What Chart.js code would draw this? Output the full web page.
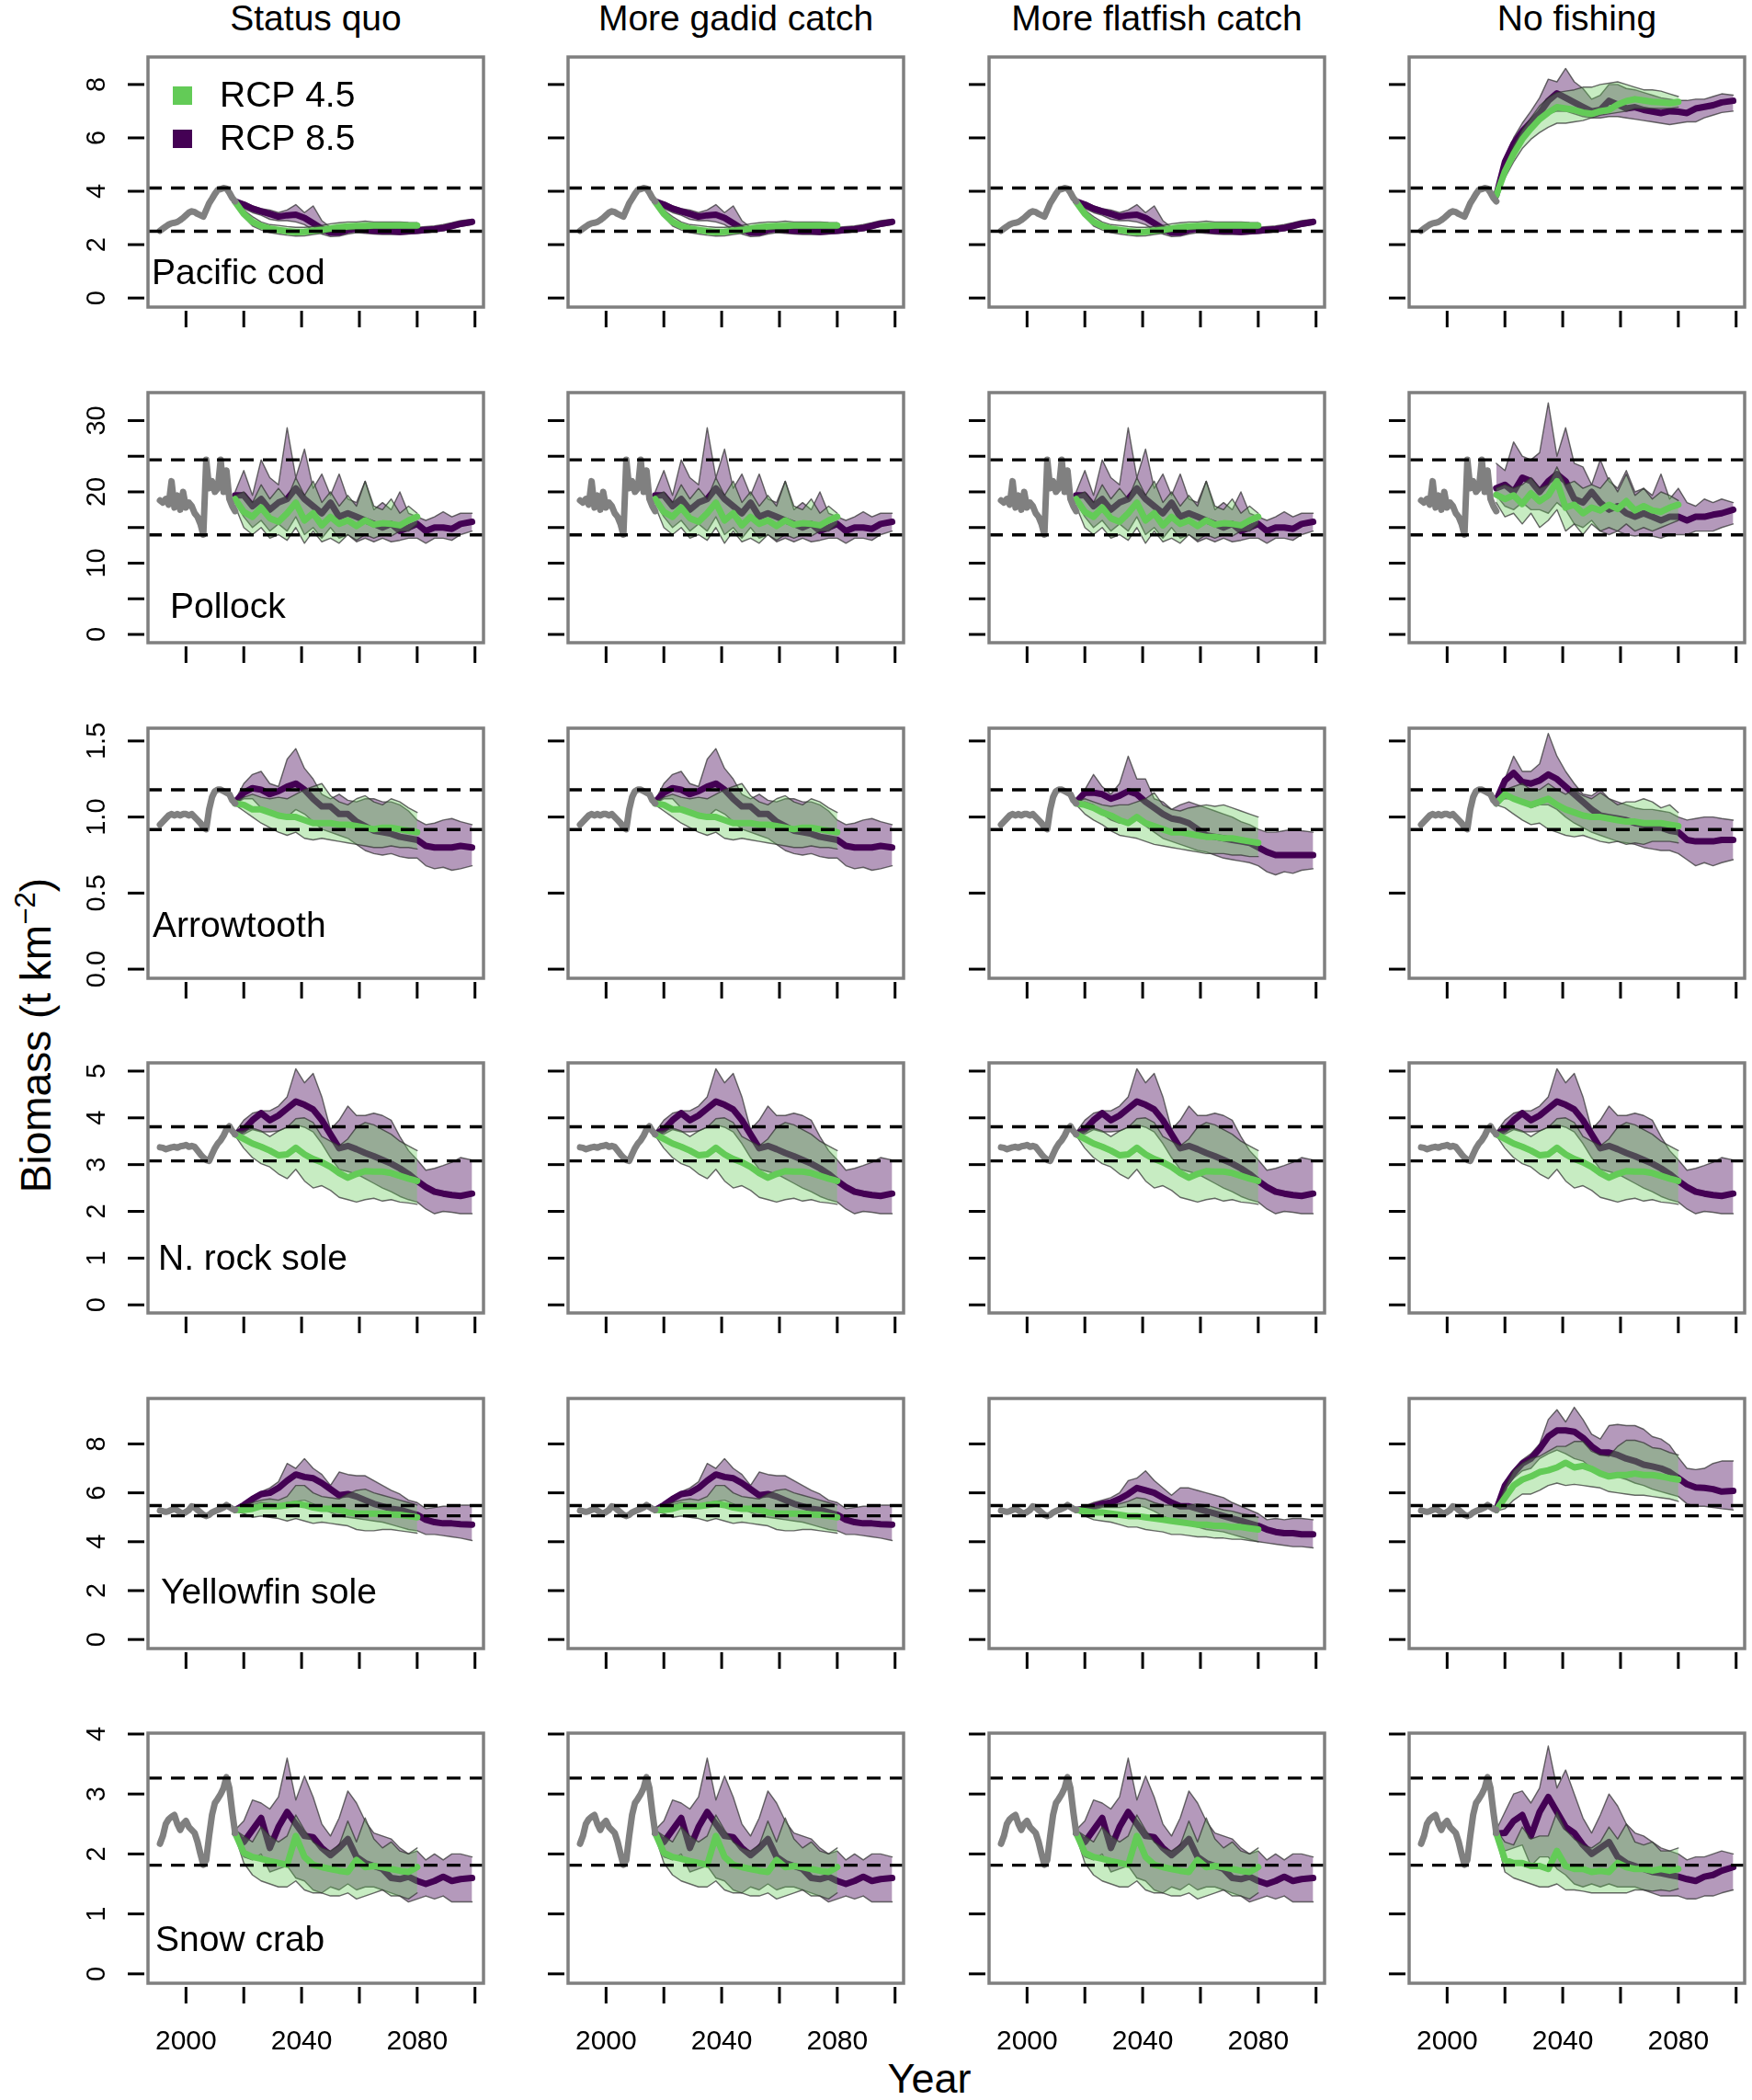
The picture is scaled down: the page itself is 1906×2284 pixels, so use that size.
<!DOCTYPE html>
<html>
<head>
<meta charset="utf-8">
<title>Biomass projections</title>
<script src="https://cdn.jsdelivr.net/npm/chart.js@4.4.1/dist/chart.umd.min.js"></script>
<style>
  html, body { margin: 0; padding: 0; background: #fff; }
  #fig { position: relative; width: 1906px; height: 2284px; overflow: hidden;
         font-family: "Liberation Sans", Arial, Helvetica, sans-serif; color: #000; }
  #fig canvas { position: absolute; }
  .title { position: absolute; top: 0; font-size: 39px; line-height: 39px; white-space: nowrap; transform: translateX(-50%); }
  .xlab { position: absolute; top: 2238px; left: 1011px; font-size: 45px; line-height: 45px; transform: translateX(-50%); }
  .ylab { position: absolute; left: -211px; top: 1103px; width: 500px; height: 46px; font-size: 46px; line-height: 46px;
          text-align: center; white-space: nowrap; transform: rotate(-90deg); }
  .ylab sup { font-size: 0.68em; line-height: 0; vertical-align: 0.55em; }
</style>
</head>
<body>
<div id="fig">
  <div class="xlab">Year</div>
  <div class="ylab">Biomass (t km<sup>&minus;2</sup>)</div>
</div>
<script>
// ---- years ----
const H_YEARS = [1991, 1992, 1993, 1994, 1995, 1996, 1997, 1998, 1999, 2000, 2001, 2002, 2003, 2004,
  2005, 2006, 2007, 2008, 2009, 2010, 2011, 2012, 2013, 2014, 2015, 2016, 2017];
const G_YEARS = [2017, 2020, 2023, 2026, 2029, 2032, 2035, 2038, 2041, 2044, 2047, 2050, 2053, 2056,
  2059, 2062, 2065, 2068, 2071, 2074, 2077, 2080];
const P_YEARS = [2017, 2020, 2023, 2026, 2029, 2032, 2035, 2038, 2041, 2044, 2047, 2050, 2053, 2056,
  2059, 2062, 2065, 2068, 2071, 2074, 2077, 2080, 2083, 2086, 2089, 2092, 2095, 2099];

const COL_TITLES = ['Status quo', 'More gadid catch', 'More flatfish catch', 'No fishing'];
const SPECIES = ['Pacific cod', 'Pollock', 'Arrowtooth', 'N. rock sole', 'Yellowfin sole', 'Snow crab'];
const X_TICKS = [2000, 2020, 2040, 2060, 2080, 2100];
const X_LABELS = [2000, 2040, 2080];
const LEGEND = ['RCP 4.5', 'RCP 8.5'];

// dashed reference lines per species
const REF_LINES = [[4.12, 2.50], [24.5, 13.96], [1.179, 0.918], [3.81, 3.08], [5.48, 5.06], [3.265, 1.813]];

// ---- historical series (same in every scenario column) ----
const codHist = [2.52, 2.60, 2.68, 2.75, 2.80, 2.82, 2.85, 2.92, 3.00, 3.10, 3.20, 3.25, 3.22, 3.15, 3.10, 3.05, 3.30, 3.55, 3.72, 3.90, 4.05, 4.08, 4.12, 4.10, 3.95, 3.75, 3.62];
const polHist = [18.8, 18.5, 19.0, 18.2, 21.5, 17.8, 19.5, 17.5, 20.0, 17.8, 18.5, 18.0, 17.0, 16.5, 15.5, 14.0, 24.5, 20.5, 21.5, 20.0, 20.5, 24.5, 20.0, 23.0, 19.0, 18.0, 17.3];
const arrHist = [0.95, 0.97, 0.99, 1.01, 1.02, 1.01, 1.02, 1.01, 1.02, 1.02, 1.01, 1.02, 1.00, 0.98, 0.96, 0.93, 0.92, 1.05, 1.13, 1.17, 1.18, 1.18, 1.17, 1.16, 1.15, 1.11, 1.09];
const rockHist = [3.37, 3.36, 3.33, 3.35, 3.37, 3.38, 3.36, 3.39, 3.40, 3.42, 3.38, 3.40, 3.38, 3.30, 3.22, 3.15, 3.10, 3.08, 3.22, 3.35, 3.45, 3.52, 3.62, 3.75, 3.82, 3.72, 3.65];
const yfHist = [5.28, 5.25, 5.22, 5.25, 5.30, 5.35, 5.28, 5.20, 5.15, 5.22, 5.30, 5.45, 5.40, 5.30, 5.20, 5.10, 5.05, 5.10, 5.20, 5.25, 5.30, 5.35, 5.40, 5.50, 5.42, 5.35, 5.30];
const snowHist = [2.17, 2.30, 2.50, 2.58, 2.62, 2.65, 2.50, 2.40, 2.50, 2.55, 2.45, 2.40, 2.35, 2.20, 2.00, 1.82, 1.90, 2.30, 2.65, 2.85, 2.92, 3.00, 3.10, 3.28, 3.10, 2.70, 2.35];

// ---- projections: g = RCP 4.5 (G_YEARS), p = RCP 8.5 (P_YEARS) ----
const codA = {
  gLo:  [3.55, 3.05, 2.70, 2.55, 2.45, 2.40, 2.35, 2.32, 2.33, 2.38, 2.42, 2.48, 2.52, 2.55, 2.57, 2.58, 2.60, 2.60, 2.60, 2.62, 2.60, 2.60],
  gMid: [3.60, 3.15, 2.85, 2.70, 2.60, 2.55, 2.50, 2.47, 2.48, 2.52, 2.55, 2.60, 2.65, 2.68, 2.70, 2.70, 2.72, 2.72, 2.72, 2.73, 2.72, 2.72],
  gHi:  [3.65, 3.30, 3.05, 2.85, 2.75, 2.72, 2.68, 2.65, 2.65, 2.68, 2.72, 2.78, 2.82, 2.85, 2.85, 2.88, 2.85, 2.85, 2.85, 2.85, 2.83, 2.82],
  pLo:  [3.58, 3.35, 3.20, 3.10, 2.95, 2.90, 2.90, 2.85, 2.75, 2.55, 2.40, 2.30, 2.32, 2.40, 2.45, 2.42, 2.40, 2.38, 2.38, 2.38, 2.40, 2.42, 2.45, 2.48, 2.52, 2.60, 2.68, 2.75],
  pMid: [3.62, 3.50, 3.35, 3.25, 3.15, 3.05, 3.10, 3.12, 3.00, 2.80, 2.60, 2.45, 2.45, 2.55, 2.60, 2.55, 2.52, 2.50, 2.50, 2.48, 2.50, 2.52, 2.55, 2.58, 2.62, 2.70, 2.78, 2.85],
  pHi:  [3.65, 3.60, 3.45, 3.35, 3.30, 3.20, 3.30, 3.50, 3.20, 3.45, 2.90, 2.65, 2.60, 2.75, 2.78, 2.70, 2.68, 2.65, 2.65, 2.62, 2.62, 2.65, 2.68, 2.70, 2.75, 2.82, 2.90, 2.95]
};
const codB = {
  gLo:  [3.80, 4.50, 5.10, 5.60, 5.95, 6.20, 6.40, 6.55, 6.55, 6.60, 6.65, 6.75, 6.85, 6.90, 6.95, 7.00, 7.10, 7.10, 7.10, 7.10, 7.10, 7.15],
  gMid: [3.84, 4.75, 5.40, 5.95, 6.35, 6.70, 6.95, 7.15, 7.10, 7.05, 6.95, 6.90, 7.00, 7.05, 7.25, 7.38, 7.45, 7.40, 7.35, 7.33, 7.30, 7.35],
  gHi:  [3.90, 4.95, 5.70, 6.30, 6.75, 7.20, 7.50, 7.70, 7.75, 7.80, 7.90, 7.90, 8.00, 8.05, 8.10, 8.00, 7.90, 7.80, 7.80, 7.75, 7.65, 7.55],
  pLo:  [3.80, 5.00, 5.60, 6.00, 6.30, 6.60, 6.90, 7.00, 7.00, 6.90, 6.80, 6.75, 6.75, 6.80, 6.80, 6.75, 6.70, 6.65, 6.60, 6.55, 6.50, 6.55, 6.60, 6.60, 6.75, 6.85, 6.95, 7.00],
  pMid: [3.84, 5.10, 5.78, 6.24, 6.59, 6.93, 7.39, 7.67, 7.50, 7.33, 7.16, 6.99, 7.05, 7.39, 7.25, 7.10, 7.15, 7.05, 6.99, 6.93, 7.00, 6.98, 6.93, 7.10, 7.16, 7.22, 7.33, 7.39],
  pHi:  [3.90, 5.25, 6.00, 6.55, 7.00, 7.50, 8.20, 8.10, 8.60, 8.10, 7.85, 7.45, 7.60, 8.00, 8.00, 7.85, 7.80, 7.70, 7.60, 7.50, 7.45, 7.40, 7.40, 7.45, 7.45, 7.55, 7.65, 7.60]
};
const polA = {
  gLo:  [18.0, 15.0, 14.0, 15.0, 13.5, 14.0, 13.2, 15.0, 12.8, 14.5, 13.0, 13.5, 12.8, 14.0, 13.2, 14.0, 13.5, 14.0, 13.8, 14.5, 14.5, 15.5],
  gMid: [19.0, 17.2, 16.5, 17.8, 16.3, 15.8, 17.0, 18.5, 16.0, 17.0, 15.3, 16.5, 15.5, 16.0, 15.2, 16.0, 15.4, 15.6, 15.5, 15.3, 16.0, 16.5],
  gHi:  [19.5, 20.0, 18.5, 21.0, 19.0, 20.5, 19.0, 22.0, 19.5, 21.5, 18.5, 20.0, 18.0, 19.5, 18.0, 21.5, 18.0, 17.5, 19.0, 17.0, 18.0, 17.0],
  pLo:  [18.5, 16.5, 15.0, 16.0, 14.5, 15.5, 14.5, 16.5, 14.0, 15.0, 13.5, 15.0, 13.5, 14.0, 13.0, 13.5, 13.0, 13.5, 13.0, 13.2, 13.5, 13.5, 12.8, 13.5, 13.5, 13.2, 14.0, 14.5],
  pMid: [19.5, 19.5, 18.0, 19.0, 17.5, 18.5, 19.0, 20.5, 19.0, 18.0, 17.0, 18.5, 16.5, 17.0, 16.5, 16.0, 15.5, 15.0, 15.5, 14.5, 15.0, 15.5, 14.5, 15.0, 15.0, 14.8, 15.5, 15.8],
  pHi:  [20.0, 23.0, 19.5, 24.5, 22.0, 21.0, 29.0, 22.0, 26.0, 20.5, 22.5, 19.5, 22.5, 19.0, 18.5, 21.5, 17.5, 18.5, 17.5, 20.0, 17.0, 16.5, 16.0, 16.5, 17.2, 16.5, 17.0, 17.0]
};
const polB = {
  gLo:  [18.5, 16.5, 17.0, 15.5, 17.0, 15.0, 16.0, 17.5, 14.5, 15.5, 14.0, 15.5, 14.5, 15.0, 14.5, 15.5, 14.5, 15.0, 14.5, 15.0, 15.5, 16.0],
  gMid: [19.6, 19.0, 19.5, 18.3, 19.8, 18.7, 19.5, 21.5, 17.8, 18.2, 17.0, 17.8, 17.4, 18.2, 17.6, 18.7, 17.4, 18.0, 17.4, 17.2, 17.8, 18.2],
  gHi:  [20.5, 21.0, 20.5, 21.0, 22.0, 20.5, 21.0, 23.5, 21.0, 21.5, 20.5, 21.0, 20.5, 22.0, 20.0, 22.5, 19.5, 20.5, 19.0, 20.0, 19.5, 18.8],
  pLo:  [19.5, 18.0, 17.5, 18.5, 17.5, 17.5, 17.0, 18.5, 17.5, 15.5, 15.0, 16.0, 14.5, 14.0, 14.5, 14.0, 13.8, 14.0, 13.8, 13.5, 14.0, 14.0, 14.0, 14.5, 14.5, 14.5, 15.0, 15.5],
  pMid: [20.5, 21.0, 20.0, 22.0, 21.5, 20.0, 21.5, 22.5, 21.5, 19.0, 18.5, 20.0, 18.5, 17.5, 18.0, 17.0, 16.5, 17.0, 16.5, 16.0, 16.5, 16.5, 16.0, 16.5, 16.5, 16.8, 17.0, 17.5],
  pHi:  [24.0, 23.0, 27.0, 25.0, 24.5, 25.5, 32.5, 25.0, 29.0, 24.0, 23.5, 21.0, 24.5, 21.5, 20.5, 23.0, 20.0, 20.5, 19.5, 22.5, 19.0, 20.5, 18.5, 18.0, 19.0, 18.5, 19.0, 18.5]
};
const arrA = {
  gLo:  [1.08, 1.04, 1.00, 0.96, 0.93, 0.90, 0.88, 0.90, 0.86, 0.85, 0.86, 0.85, 0.84, 0.83, 0.82, 0.81, 0.80, 0.80, 0.81, 0.80, 0.80, 0.79],
  gMid: [1.09, 1.08, 1.05, 1.05, 1.03, 1.01, 1.00, 1.00, 0.98, 0.96, 0.96, 0.96, 0.95, 0.95, 0.94, 0.93, 0.92, 0.93, 0.93, 0.92, 0.91, 0.90],
  gHi:  [1.10, 1.13, 1.15, 1.13, 1.12, 1.13, 1.12, 1.15, 1.18, 1.20, 1.22, 1.14, 1.10, 1.08, 1.12, 1.14, 1.10, 1.08, 1.12, 1.10, 1.06, 1.03],
  pLo:  [1.09, 1.12, 1.12, 1.06, 1.02, 1.00, 1.00, 1.05, 1.02, 0.97, 0.92, 0.90, 0.88, 0.86, 0.82, 0.78, 0.76, 0.75, 0.76, 0.74, 0.73, 0.73, 0.68, 0.66, 0.67, 0.65, 0.66, 0.68],
  pMid: [1.10, 1.16, 1.19, 1.18, 1.15, 1.17, 1.20, 1.22, 1.18, 1.12, 1.07, 1.07, 1.02, 1.02, 0.97, 0.94, 0.91, 0.90, 0.89, 0.87, 0.86, 0.85, 0.81, 0.80, 0.80, 0.80, 0.81, 0.80],
  pHi:  [1.11, 1.22, 1.28, 1.30, 1.22, 1.20, 1.38, 1.45, 1.32, 1.25, 1.15, 1.12, 1.15, 1.11, 1.10, 1.12, 1.12, 1.10, 1.10, 1.08, 1.04, 0.98, 0.95, 0.96, 0.98, 0.99, 0.97, 0.95]
};
const arrB = {
  gLo:  [1.08, 1.02, 0.98, 0.95, 0.91, 0.88, 0.87, 0.86, 0.84, 0.82, 0.81, 0.80, 0.79, 0.78, 0.77, 0.76, 0.76, 0.76, 0.75, 0.75, 0.74, 0.74],
  gMid: [1.09, 1.08, 1.06, 1.03, 1.01, 0.98, 0.96, 1.00, 0.96, 0.94, 0.92, 0.90, 0.90, 0.89, 0.88, 0.87, 0.87, 0.86, 0.86, 0.85, 0.84, 0.83],
  gHi:  [1.10, 1.12, 1.10, 1.08, 1.07, 1.08, 1.08, 1.10, 1.12, 1.16, 1.08, 1.05, 1.04, 1.06, 1.07, 1.08, 1.07, 1.08, 1.06, 1.04, 1.02, 1.00],
  pLo:  [1.08, 1.10, 1.08, 1.02, 0.98, 0.96, 0.97, 0.98, 0.94, 0.90, 0.86, 0.84, 0.82, 0.80, 0.78, 0.77, 0.75, 0.73, 0.72, 0.71, 0.70, 0.68, 0.64, 0.62, 0.64, 0.63, 0.65, 0.66],
  pMid: [1.10, 1.16, 1.16, 1.15, 1.12, 1.14, 1.17, 1.15, 1.10, 1.06, 1.02, 0.99, 0.98, 0.96, 0.92, 0.88, 0.87, 0.86, 0.85, 0.84, 0.83, 0.80, 0.77, 0.75, 0.75, 0.75, 0.75, 0.75],
  pHi:  [1.11, 1.18, 1.28, 1.20, 1.15, 1.22, 1.40, 1.25, 1.25, 1.12, 1.10, 1.05, 1.08, 1.10, 1.08, 1.06, 1.04, 1.02, 1.00, 0.97, 0.95, 0.92, 0.90, 0.90, 0.91, 0.92, 0.91, 0.90]
};
const arrC = {
  gLo:  [1.08, 1.06, 1.02, 0.98, 0.95, 0.96, 0.92, 0.90, 0.88, 0.87, 0.88, 0.86, 0.84, 0.83, 0.84, 0.82, 0.83, 0.82, 0.84, 0.84, 0.84, 0.83],
  gMid: [1.09, 1.15, 1.12, 1.10, 1.08, 1.10, 1.12, 1.08, 1.05, 1.03, 1.01, 1.00, 1.00, 0.99, 0.98, 0.97, 0.97, 0.96, 0.96, 0.96, 0.95, 0.94],
  gHi:  [1.10, 1.18, 1.20, 1.22, 1.18, 1.18, 1.22, 1.18, 1.15, 1.18, 1.14, 1.12, 1.16, 1.12, 1.08, 1.10, 1.10, 1.12, 1.10, 1.06, 1.08, 1.03],
  pLo:  [1.10, 1.12, 1.12, 1.10, 1.06, 1.08, 1.08, 1.05, 1.00, 0.96, 0.93, 0.90, 0.88, 0.86, 0.84, 0.83, 0.82, 0.80, 0.79, 0.78, 0.78, 0.76, 0.72, 0.68, 0.70, 0.68, 0.70, 0.72],
  pMid: [1.11, 1.24, 1.29, 1.23, 1.22, 1.24, 1.28, 1.25, 1.20, 1.15, 1.10, 1.05, 1.01, 1.00, 0.99, 0.98, 0.96, 0.95, 0.93, 0.93, 0.91, 0.90, 0.85, 0.84, 0.84, 0.84, 0.85, 0.85],
  pHi:  [1.13, 1.25, 1.40, 1.30, 1.30, 1.35, 1.55, 1.40, 1.30, 1.22, 1.15, 1.14, 1.18, 1.12, 1.10, 1.08, 1.06, 1.05, 1.05, 1.04, 1.03, 1.00, 0.98, 0.99, 1.00, 1.00, 0.99, 0.98]
};
const rockA = {
  gLo:  [3.62, 3.35, 3.15, 3.02, 2.95, 2.80, 2.70, 2.90, 2.65, 2.50, 2.55, 2.45, 2.30, 2.25, 2.20, 2.25, 2.28, 2.22, 2.25, 2.20, 2.18, 2.15],
  gMid: [3.65, 3.55, 3.45, 3.38, 3.30, 3.20, 3.22, 3.36, 3.22, 3.12, 3.05, 2.95, 2.82, 2.72, 2.80, 2.86, 2.85, 2.85, 2.82, 2.76, 2.70, 2.65],
  gHi:  [3.70, 3.72, 3.78, 3.72, 3.60, 3.72, 3.80, 3.98, 4.00, 3.90, 3.60, 3.50, 3.40, 3.55, 3.80, 3.90, 3.85, 3.75, 3.65, 3.50, 3.40, 3.30],
  pLo:  [3.60, 3.65, 3.75, 3.70, 3.70, 3.72, 3.80, 3.85, 3.80, 3.70, 3.45, 3.15, 2.90, 2.85, 2.80, 2.70, 2.60, 2.50, 2.42, 2.32, 2.25, 2.20, 2.05, 1.95, 2.00, 1.98, 1.95, 1.95],
  pMid: [3.65, 3.75, 3.95, 4.10, 3.95, 4.05, 4.20, 4.35, 4.28, 4.18, 3.95, 3.65, 3.35, 3.40, 3.33, 3.25, 3.18, 3.10, 3.02, 2.92, 2.80, 2.65, 2.52, 2.42, 2.38, 2.35, 2.33, 2.38],
  pHi:  [3.70, 3.95, 4.10, 4.15, 4.15, 4.25, 4.45, 5.05, 4.75, 4.95, 4.45, 3.75, 3.95, 4.25, 4.05, 4.05, 4.10, 4.05, 3.95, 3.60, 3.30, 3.10, 2.88, 2.92, 2.98, 3.05, 3.15, 3.10]
};
const yfA = {
  gLo:  [5.25, 5.15, 5.00, 5.05, 5.00, 4.95, 4.85, 4.95, 4.85, 4.75, 4.80, 4.75, 4.70, 4.65, 4.50, 4.45, 4.45, 4.50, 4.50, 4.45, 4.40, 4.35],
  gMid: [5.30, 5.30, 5.35, 5.45, 5.45, 5.45, 5.50, 5.55, 5.50, 5.40, 5.35, 5.35, 5.30, 5.20, 5.15, 5.15, 5.15, 5.15, 5.12, 5.10, 5.05, 5.00],
  gHi:  [5.35, 5.50, 5.60, 5.70, 5.75, 5.70, 5.85, 6.30, 6.30, 6.00, 5.85, 5.80, 5.75, 5.95, 6.10, 6.15, 6.00, 5.90, 5.80, 5.70, 5.60, 5.50],
  pLo:  [5.25, 5.40, 5.50, 5.60, 5.55, 5.50, 5.60, 5.65, 5.70, 5.55, 5.35, 5.20, 5.05, 5.00, 4.95, 4.90, 4.85, 4.80, 4.70, 4.60, 4.50, 4.45, 4.30, 4.30, 4.25, 4.20, 4.15, 4.05],
  pMid: [5.30, 5.50, 5.75, 5.95, 6.00, 6.20, 6.50, 6.75, 6.65, 6.60, 6.40, 6.15, 5.90, 5.95, 5.85, 5.70, 5.55, 5.45, 5.35, 5.30, 5.20, 5.10, 4.90, 4.80, 4.75, 4.75, 4.72, 4.70],
  pHi:  [5.35, 5.55, 5.85, 6.05, 6.20, 6.45, 7.20, 7.00, 7.40, 7.00, 6.75, 6.30, 6.85, 6.75, 6.70, 6.70, 6.50, 6.30, 6.10, 5.95, 5.70, 5.60, 5.35, 5.40, 5.45, 5.45, 5.50, 5.50]
};
const yfB = {
  gLo:  [5.25, 5.05, 4.90, 4.85, 4.80, 4.70, 4.60, 4.60, 4.50, 4.45, 4.40, 4.30, 4.30, 4.25, 4.20, 4.20, 4.15, 4.15, 4.10, 4.10, 4.05, 4.00],
  gMid: [5.30, 5.25, 5.20, 5.20, 5.15, 5.10, 5.05, 5.05, 5.00, 4.95, 4.90, 4.85, 4.80, 4.75, 4.70, 4.70, 4.65, 4.65, 4.60, 4.60, 4.55, 4.50],
  gHi:  [5.35, 5.40, 5.45, 5.50, 5.50, 5.55, 5.65, 5.80, 5.75, 5.60, 5.50, 5.50, 5.45, 5.50, 5.55, 5.50, 5.40, 5.30, 5.25, 5.15, 5.10, 5.00],
  pLo:  [5.25, 5.30, 5.30, 5.40, 5.40, 5.40, 5.45, 5.50, 5.40, 5.25, 5.05, 4.90, 4.75, 4.70, 4.60, 4.50, 4.45, 4.40, 4.30, 4.20, 4.10, 4.00, 3.95, 3.90, 3.85, 3.80, 3.80, 3.75],
  pMid: [5.30, 5.35, 5.45, 5.55, 5.60, 5.75, 5.95, 6.20, 6.10, 6.00, 5.80, 5.60, 5.45, 5.45, 5.35, 5.25, 5.15, 5.05, 4.95, 4.85, 4.75, 4.65, 4.50, 4.40, 4.35, 4.35, 4.30, 4.30],
  pHi:  [5.35, 5.45, 5.60, 5.70, 5.80, 6.00, 6.50, 6.60, 6.90, 6.50, 6.20, 5.90, 6.20, 6.20, 6.10, 6.00, 5.90, 5.80, 5.60, 5.45, 5.30, 5.15, 4.90, 4.95, 4.90, 4.95, 4.95, 4.90]
};
const yfC = {
  gLo:  [5.25, 5.35, 5.70, 5.95, 5.95, 6.10, 6.30, 6.40, 6.30, 6.35, 6.30, 6.25, 6.20, 6.05, 6.00, 5.95, 5.90, 5.90, 5.85, 5.80, 5.75, 5.65],
  gMid: [5.30, 5.80, 6.30, 6.54, 6.67, 6.85, 6.92, 7.04, 7.23, 7.04, 7.10, 6.98, 6.79, 6.67, 6.73, 6.73, 6.79, 6.73, 6.73, 6.67, 6.60, 6.54],
  gHi:  [5.35, 6.20, 6.90, 7.20, 7.40, 7.50, 7.70, 7.90, 7.90, 8.10, 8.10, 7.70, 7.55, 7.50, 7.90, 8.15, 8.15, 8.05, 7.85, 7.80, 7.65, 7.55],
  pLo:  [5.25, 6.20, 6.60, 6.90, 7.00, 7.40, 7.60, 7.75, 7.60, 7.40, 7.30, 7.00, 6.85, 6.75, 6.65, 6.55, 6.40, 6.30, 6.15, 6.05, 5.95, 5.85, 5.55, 5.45, 5.45, 5.40, 5.35, 5.30],
  pMid: [5.30, 6.30, 6.80, 7.20, 7.40, 7.80, 8.30, 8.55, 8.55, 8.50, 8.25, 7.90, 7.65, 7.65, 7.55, 7.40, 7.30, 7.15, 7.08, 7.00, 6.85, 6.60, 6.35, 6.22, 6.20, 6.15, 6.05, 6.08],
  pHi:  [5.35, 6.40, 6.95, 7.35, 7.60, 8.00, 9.00, 9.40, 8.90, 9.50, 9.00, 8.40, 8.20, 8.75, 8.80, 8.75, 8.75, 8.60, 8.30, 8.20, 7.95, 7.45, 7.00, 6.95, 7.00, 7.20, 7.30, 7.30]
};
const snowA = {
  gLo:  [2.30, 1.85, 1.65, 1.55, 1.50, 1.45, 1.45, 1.55, 1.40, 1.35, 1.35, 1.30, 1.30, 1.35, 1.25, 1.30, 1.35, 1.40, 1.30, 1.30, 1.25, 1.35],
  gMid: [2.35, 2.02, 1.95, 1.92, 1.88, 1.85, 1.82, 2.30, 1.95, 1.82, 1.78, 1.75, 1.72, 1.70, 1.90, 1.78, 1.80, 1.78, 1.75, 1.72, 1.70, 1.78],
  gHi:  [2.40, 2.30, 2.20, 2.45, 2.30, 2.20, 2.30, 2.65, 2.40, 2.20, 2.10, 2.05, 2.15, 2.55, 2.20, 2.60, 2.25, 2.10, 2.20, 2.05, 2.00, 2.10],
  pLo:  [2.30, 1.95, 1.90, 2.00, 1.70, 1.75, 1.80, 1.60, 1.55, 1.40, 1.35, 1.45, 1.40, 1.50, 1.40, 1.45, 1.45, 1.40, 1.35, 1.30, 1.20, 1.25, 1.30, 1.25, 1.30, 1.20, 1.20, 1.20],
  pMid: [2.34, 2.20, 2.40, 2.60, 2.10, 2.45, 2.70, 2.50, 2.30, 2.28, 2.10, 1.98, 2.10, 2.25, 1.95, 1.85, 1.80, 1.75, 1.60, 1.58, 1.62, 1.55, 1.50, 1.55, 1.62, 1.55, 1.58, 1.60],
  pHi:  [2.40, 2.55, 2.90, 2.85, 2.75, 2.95, 3.60, 2.90, 3.30, 2.95, 2.50, 2.30, 2.60, 3.05, 2.85, 2.55, 2.35, 2.30, 2.25, 2.10, 2.00, 2.05, 1.90, 2.00, 1.90, 2.00, 2.00, 1.95]
};
const snowB = {
  gLo:  [2.30, 1.70, 1.60, 1.55, 1.50, 1.45, 1.45, 1.50, 1.40, 1.40, 1.38, 1.35, 1.35, 1.35, 1.35, 1.35, 1.40, 1.40, 1.38, 1.40, 1.38, 1.42],
  gMid: [2.35, 1.90, 1.85, 1.85, 1.80, 1.80, 1.75, 2.05, 1.80, 1.75, 1.75, 1.70, 1.72, 1.70, 1.85, 1.78, 1.75, 1.75, 1.72, 1.75, 1.72, 1.75],
  gHi:  [2.40, 2.20, 2.15, 2.45, 2.25, 2.30, 2.30, 2.70, 2.40, 2.25, 2.15, 2.10, 2.20, 2.45, 2.25, 2.50, 2.20, 2.15, 2.20, 2.05, 2.05, 2.10],
  pLo:  [2.30, 2.05, 2.10, 2.15, 1.80, 1.95, 1.95, 1.75, 1.65, 1.50, 1.45, 1.50, 1.45, 1.50, 1.45, 1.45, 1.45, 1.40, 1.35, 1.30, 1.30, 1.30, 1.25, 1.25, 1.30, 1.30, 1.35, 1.40],
  pMid: [2.34, 2.35, 2.55, 2.65, 2.30, 2.70, 2.95, 2.70, 2.45, 2.35, 2.15, 2.00, 2.10, 2.20, 1.95, 1.85, 1.80, 1.75, 1.70, 1.68, 1.65, 1.62, 1.58, 1.55, 1.62, 1.65, 1.72, 1.78],
  pHi:  [2.40, 2.70, 3.00, 3.05, 2.85, 3.10, 3.80, 3.10, 3.40, 3.00, 2.60, 2.35, 2.65, 3.00, 2.80, 2.50, 2.35, 2.30, 2.20, 2.10, 2.05, 2.00, 1.90, 1.95, 1.95, 2.00, 2.05, 2.00]
};

const HISTS = [codHist, polHist, arrHist, rockHist, yfHist, snowHist];
const PANELS = [
  [codA, codA, codA, codB],
  [polA, polA, polA, polB],
  [arrA, arrA, arrB, arrC],
  [rockA, rockA, rockA, rockA],
  [yfA, yfA, yfB, yfC],
  [snowA, snowA, snowA, snowB]
];

// ---- layout (pixels) ----
const COL_LEFT = [161, 618, 1076, 1533];
const ROW_TOP = [62, 427, 792, 1156, 1521, 1885];
const BOX_W = 365, BOX_H = 272;
const PAD = { left: 80, right: 12, top: 12, bottom: 90 };
const X_MIN = 1986.85, X_MAX = 2102.95;

const ROW_AXES = [
  { min: -0.34, max: 9.03,  ticks: [0, 2, 4, 6, 8],             labelled: [0, 2, 4, 6, 8],     dec: 0, lab: [4, 25] },
  { min: -1.16, max: 33.93, ticks: [0, 5, 10, 15, 20, 25, 30],  labelled: [0, 10, 20, 30],     dec: 0, lab: [24, 27] },
  { min: -0.06, max: 1.584, ticks: [0, 0.5, 1, 1.5],            labelled: [0, 0.5, 1, 1.5],    dec: 1, lab: [5, 45] },
  { min: -0.173, max: 5.176, ticks: [0, 1, 2, 3, 4, 5],         labelled: [0, 1, 2, 3, 4, 5],  dec: 0, lab: [11, 47] },
  { min: -0.37, max: 9.86,  ticks: [0, 2, 4, 6, 8],             labelled: [0, 2, 4, 6, 8],     dec: 0, lab: [14, 49] },
  { min: -0.156, max: 4.015, ticks: [0, 1, 2, 3, 4],            labelled: [0, 1, 2, 3, 4],     dec: 0, lab: [8, 35] }
];

const GREEN = '#63cb57';
const PURPLE = '#440154';
const GRAY = '#808080';
const GREEN_FILL = 'rgba(99, 203, 87, 0.36)';
const PURPLE_FILL = 'rgba(68, 1, 84, 0.40)';
const EDGE = 'rgba(55, 55, 55, 0.75)';
const FONT = '"Liberation Sans", Arial, Helvetica, sans-serif';
const MAIN_W = 7;

// R-style box, ticks, labels, reference lines, legend
const rPanel = {
  id: 'rPanel',
  afterDatasetsDraw(chart, args, o) {
    const { ctx, chartArea: a, scales: { x, y } } = chart;
    ctx.save();

    ctx.strokeStyle = '#000';
    ctx.lineWidth = 3.4;
    ctx.setLineDash([15, 10]);
    for (const v of o.refs) {
      const py = y.getPixelForValue(v);
      ctx.beginPath(); ctx.moveTo(a.left, py); ctx.lineTo(a.right, py); ctx.stroke();
    }
    ctx.setLineDash([]);

    ctx.strokeStyle = '#7f7f7f';
    ctx.lineWidth = 3.5;
    ctx.strokeRect(a.left, a.top, a.right - a.left, a.bottom - a.top);

    ctx.strokeStyle = '#000';
    ctx.lineWidth = 3;
    for (const t of X_TICKS) {
      const px = x.getPixelForValue(t);
      ctx.beginPath(); ctx.moveTo(px, a.bottom + 4); ctx.lineTo(px, a.bottom + 22); ctx.stroke();
    }
    for (const t of o.axis.ticks) {
      const py = y.getPixelForValue(t);
      ctx.beginPath(); ctx.moveTo(a.left - 4, py); ctx.lineTo(a.left - 22, py); ctx.stroke();
    }

    ctx.fillStyle = '#000';
    if (o.col === 0) {
      ctx.font = '29px ' + FONT;
      ctx.textAlign = 'center';
      ctx.textBaseline = 'alphabetic';
      for (const t of o.axis.labelled) {
        const py = y.getPixelForValue(t);
        ctx.save();
        ctx.translate(a.left - 47, py);
        ctx.rotate(-Math.PI / 2);
        ctx.fillText(t.toFixed(o.axis.dec), 0, 0);
        ctx.restore();
      }
      ctx.font = '39px ' + FONT;
      ctx.textAlign = 'left';
      ctx.fillText(o.name, a.left + o.axis.lab[0], a.bottom - o.axis.lab[1]);
    }
    if (o.lastRow) {
      ctx.font = '30px ' + FONT;
      ctx.textAlign = 'center';
      for (const t of X_LABELS) {
        ctx.fillText(String(t), x.getPixelForValue(t), a.bottom + 72);
      }
    }
    if (o.legend) {
      const cols = [GREEN, PURPLE];
      ctx.font = '39px ' + FONT;
      ctx.textAlign = 'left';
      ctx.textBaseline = 'middle';
      LEGEND.forEach((txt, i) => {
        const cy = a.top + 42 + i * 47;
        ctx.fillStyle = cols[i];
        ctx.fillRect(a.left + 27, cy - 10, 21, 20);
        ctx.fillStyle = '#000';
        ctx.fillText(txt, a.left + 78, cy + 1);
      });
    }
    ctx.restore();
  }
};

function pts(xs, ys) {
  return xs.map((v, i) => ({ x: v, y: ys[i] }));
}

function lineSet(data, color, width, order, extra) {
  return Object.assign({
    data, borderColor: color, borderWidth: width, pointRadius: 0, fill: false, order,
    borderJoinStyle: 'round', borderCapStyle: 'round', tension: 0
  }, extra || {});
}

const fig = document.getElementById('fig');

COL_TITLES.forEach((t, c) => {
  const d = document.createElement('div');
  d.className = 'title';
  d.textContent = t;
  d.style.left = (COL_LEFT[c] + BOX_W / 2) + 'px';
  fig.appendChild(d);
});

PANELS.forEach((row, r) => {
  row.forEach((v, c) => {
    const cv = document.createElement('canvas');
    cv.width = BOX_W + PAD.left + PAD.right;
    cv.height = BOX_H + PAD.top + PAD.bottom;
    cv.style.left = (COL_LEFT[c] - PAD.left) + 'px';
    cv.style.top = (ROW_TOP[r] - PAD.top) + 'px';
    fig.appendChild(cv);

    const datasets = [
      lineSet(pts(P_YEARS, v.pLo), EDGE, 1.4, 6),
      lineSet(pts(P_YEARS, v.pHi), EDGE, 1.4, 7, { fill: 0, backgroundColor: PURPLE_FILL }),
      lineSet(pts(P_YEARS, v.pMid), PURPLE, MAIN_W, 5),
      lineSet(pts(G_YEARS, v.gLo), EDGE, 1.4, 3),
      lineSet(pts(G_YEARS, v.gHi), EDGE, 1.4, 4, { fill: 3, backgroundColor: GREEN_FILL }),
      lineSet(pts(G_YEARS, v.gMid), GREEN, MAIN_W, 2),
      lineSet(pts(H_YEARS, HISTS[r]), GRAY, MAIN_W, 1)
    ];

    new Chart(cv, {
      type: 'line',
      data: { datasets },
      options: {
        responsive: false,
        animation: false,
        devicePixelRatio: 1,
        events: [],
        layout: { padding: PAD },
        scales: {
          x: { type: 'linear', min: X_MIN, max: X_MAX, display: false },
          y: { type: 'linear', min: ROW_AXES[r].min, max: ROW_AXES[r].max, display: false }
        },
        plugins: {
          legend: { display: false },
          tooltip: { enabled: false },
          rPanel: {
            refs: REF_LINES[r],
            axis: ROW_AXES[r],
            col: c,
            name: SPECIES[r],
            lastRow: r === PANELS.length - 1,
            legend: r === 0 && c === 0
          }
        }
      },
      plugins: [rPanel]
    });
  });
});
</script>
</body>
</html>
